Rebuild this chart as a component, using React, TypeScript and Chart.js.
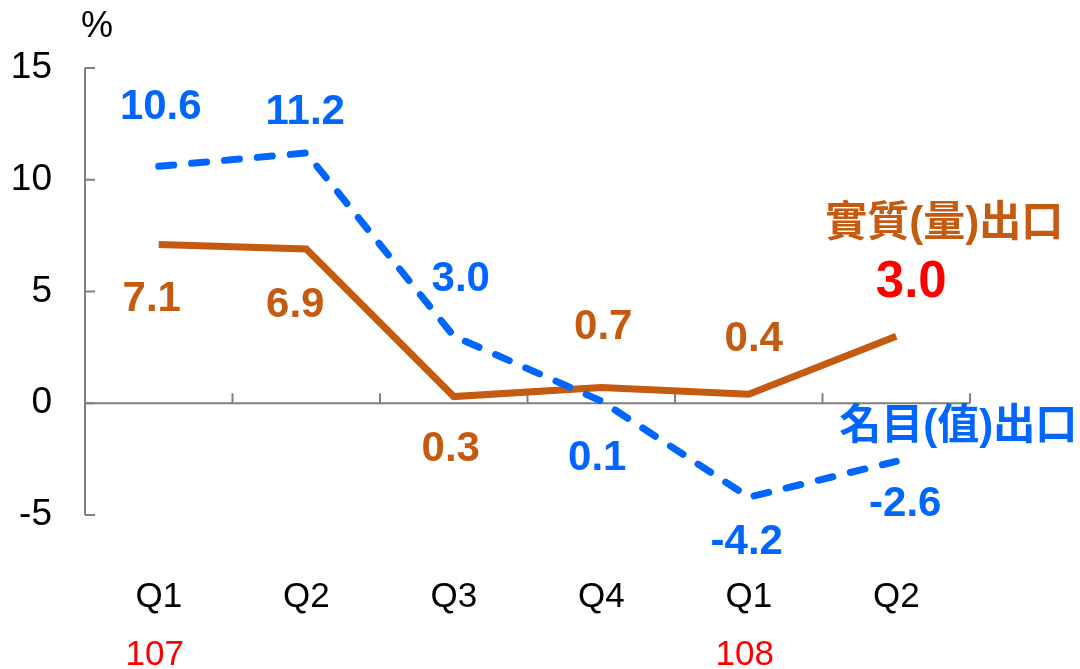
import React, { useEffect, useRef } from "react";
import { Chart, registerables } from "chart.js";

Chart.register(...registerables);

const categories = ["Q1", "Q2", "Q3", "Q4", "Q1", "Q2"];
const yearLabels = ["107", "", "", "", "108", ""];
const nominalExports = [10.6, 11.2, 3.0, 0.1, -4.2, -2.6];
const realExports = [7.1, 6.9, 0.3, 0.7, 0.4, 3.0];
const yMin = -5;
const yMax = 15;
const yStep = 5;
const nominalName = "名目(值)出口";
const realName = "實質(量)出口";
const unitLabel = "%";

const BLUE = "#0066FF";
const ORANGE = "#C55A11";
const RED = "#FF0000";
const AXIS = "#808080";
const FONT = "'Liberation Sans', Arial, 'Noto Sans CJK TC', sans-serif";

// label offsets (dx, dy) relative to each point, purely presentational
const nominalOffsets = [
  [2, -59], [-1, -41], [7, -57], [-4, 57], [-2, 45], [9, 43],
];
const realOffsets = [
  [-7, 55], [-11, 56], [-3, 53], [2, -60], [5, -55], [15, -53],
];

const decorPlugin = {
  id: "decor",
  beforeDatasetsDraw(chart: any) {
    const { ctx, chartArea, scales } = chart;
    const y = scales.y;
    ctx.save();
    ctx.strokeStyle = AXIS;
    ctx.lineWidth = 2;
    ctx.beginPath();
    ctx.moveTo(chartArea.left, chartArea.top);
    ctx.lineTo(chartArea.left, chartArea.bottom);
    ctx.stroke();
    for (let v = yMin; v <= yMax; v += yStep) {
      const py = y.getPixelForValue(v);
      ctx.beginPath();
      ctx.moveTo(chartArea.left, py);
      ctx.lineTo(chartArea.left + 10, py);
      ctx.stroke();
    }
    const y0 = y.getPixelForValue(0);
    ctx.beginPath();
    ctx.moveTo(chartArea.left, y0);
    ctx.lineTo(chartArea.right, y0);
    ctx.stroke();
    const n = categories.length;
    const step = (chartArea.right - chartArea.left) / n;
    for (let i = 1; i <= n; i++) {
      const px = chartArea.left + i * step;
      ctx.beginPath();
      ctx.moveTo(px, y0);
      ctx.lineTo(px, y0 - 10);
      ctx.stroke();
    }
    ctx.restore();
  },
  afterDatasetsDraw(chart: any) {
    const { ctx, chartArea, scales } = chart;
    ctx.save();
    ctx.textAlign = "center";
    ctx.textBaseline = "middle";
    const offs = [nominalOffsets, realOffsets];
    chart.data.datasets.forEach((ds: any, di: number) => {
      const meta = chart.getDatasetMeta(di);
      meta.data.forEach((pt: any, i: number) => {
        const v = ds.data[i] as number;
        const [dx, dy] = offs[di][i];
        const isLastReal = di === 1 && i === ds.data.length - 1;
        ctx.fillStyle = isLastReal ? RED : ds.borderColor;
        ctx.font = `bold ${isLastReal ? 51 : 42}px ${FONT}`;
        ctx.fillText(v.toFixed(1), pt.x + dx, pt.y + dy);
      });
    });
    const nMeta = chart.getDatasetMeta(0);
    const rMeta = chart.getDatasetMeta(1);
    const nLast = nMeta.data[nMeta.data.length - 1];
    const rLast = rMeta.data[rMeta.data.length - 1];
    ctx.font = `bold 42px ${FONT}`;
    ctx.fillStyle = ORANGE;
    ctx.fillText(realName, rLast.x + 48, rLast.y - 112);
    ctx.fillStyle = BLUE;
    ctx.fillText(nominalName, nLast.x + 62, nLast.y - 34);
    ctx.font = `36px ${FONT}`;
    ctx.fillStyle = "#000";
    ctx.fillText(unitLabel, chartArea.left + 12, chartArea.top - 41);
    ctx.font = `35px ${FONT}`;
    ctx.fillStyle = RED;
    yearLabels.forEach((t, i) => {
      if (!t) return;
      ctx.fillText(t, scales.x.getPixelForValue(i) - 4, 655);
    });
    ctx.restore();
  },
};

export default function App() {
  const ref = useRef<HTMLCanvasElement | null>(null);
  useEffect(() => {
    if (!ref.current) return;
    const chart = new Chart(ref.current, {
      type: "line",
      data: {
        labels: categories,
        datasets: [
          {
            label: nominalName,
            data: nominalExports,
            borderColor: BLUE,
            borderWidth: 7,
            borderDash: [15, 18],
            borderCapStyle: "round",
            borderJoinStyle: "round",
            pointRadius: 0,
            tension: 0,
            fill: false,
          },
          {
            label: realName,
            data: realExports,
            borderColor: ORANGE,
            borderWidth: 7,
            borderCapStyle: "butt",
            borderJoinStyle: "miter",
            pointRadius: 0,
            tension: 0,
            fill: false,
          },
        ],
      },
      options: {
        responsive: false,
        animation: false,
        layout: { padding: { top: 68, right: 110, left: 0, bottom: 0 } },
        plugins: {
          legend: { display: false },
          tooltip: { enabled: false },
        },
        scales: {
          x: {
            offset: true,
            grid: { display: false, drawTicks: false },
            border: { display: false },
            ticks: {
              color: "#000",
              font: { family: FONT, size: 35 },
              padding: 61,
              maxRotation: 0,
            },
            afterFit: (s: any) => {
              s.height = 154;
            },
          },
          y: {
            min: yMin,
            max: yMax,
            grid: { display: false, drawTicks: false },
            border: { display: false },
            ticks: {
              stepSize: yStep,
              color: "#000",
              font: { family: FONT, size: 37 },
              padding: 33,
            },
            afterFit: (s: any) => {
              s.width = 85;
            },
          },
        },
      },
      plugins: [decorPlugin],
    });
    return () => chart.destroy();
  }, []);
  return (
    <div style={{ position: "fixed", left: 0, top: 0, width: 1080, height: 669, background: "#fff" }}>
      <canvas ref={ref} width={1080} height={669} style={{ width: 1080, height: 669 }} />
    </div>
  );
}
